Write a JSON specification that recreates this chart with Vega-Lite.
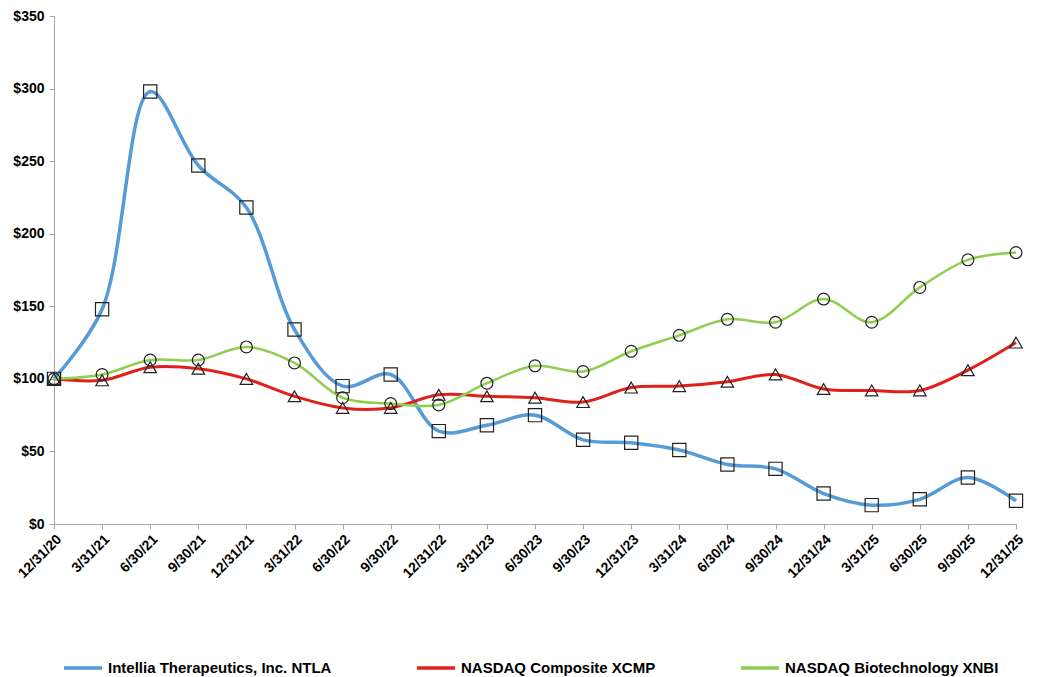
{
  "$schema": "https://vega.github.io/schema/vega-lite/v6.json",
  "width": 962,
  "height": 508,
  "autosize": {"type": "none"},
  "padding": {"left": 54, "top": 16, "right": 37, "bottom": 153},
  "background": "white",
  "config": {"view": {"stroke": null}, "font": "Liberation Sans"},
  "data": {"values": [
    {"date": "12/31/20", "series": "Intellia Therapeutics, Inc. NTLA", "value": 100},
    {"date": "3/31/21", "series": "Intellia Therapeutics, Inc. NTLA", "value": 148},
    {"date": "6/30/21", "series": "Intellia Therapeutics, Inc. NTLA", "value": 298},
    {"date": "9/30/21", "series": "Intellia Therapeutics, Inc. NTLA", "value": 247},
    {"date": "12/31/21", "series": "Intellia Therapeutics, Inc. NTLA", "value": 218},
    {"date": "3/31/22", "series": "Intellia Therapeutics, Inc. NTLA", "value": 134},
    {"date": "6/30/22", "series": "Intellia Therapeutics, Inc. NTLA", "value": 95},
    {"date": "9/30/22", "series": "Intellia Therapeutics, Inc. NTLA", "value": 103},
    {"date": "12/31/22", "series": "Intellia Therapeutics, Inc. NTLA", "value": 64},
    {"date": "3/31/23", "series": "Intellia Therapeutics, Inc. NTLA", "value": 68},
    {"date": "6/30/23", "series": "Intellia Therapeutics, Inc. NTLA", "value": 75},
    {"date": "9/30/23", "series": "Intellia Therapeutics, Inc. NTLA", "value": 58},
    {"date": "12/31/23", "series": "Intellia Therapeutics, Inc. NTLA", "value": 56},
    {"date": "3/31/24", "series": "Intellia Therapeutics, Inc. NTLA", "value": 51},
    {"date": "6/30/24", "series": "Intellia Therapeutics, Inc. NTLA", "value": 41},
    {"date": "9/30/24", "series": "Intellia Therapeutics, Inc. NTLA", "value": 38},
    {"date": "12/31/24", "series": "Intellia Therapeutics, Inc. NTLA", "value": 21},
    {"date": "3/31/25", "series": "Intellia Therapeutics, Inc. NTLA", "value": 13},
    {"date": "6/30/25", "series": "Intellia Therapeutics, Inc. NTLA", "value": 17},
    {"date": "9/30/25", "series": "Intellia Therapeutics, Inc. NTLA", "value": 32},
    {"date": "12/31/25", "series": "Intellia Therapeutics, Inc. NTLA", "value": 16},
    {"date": "12/31/20", "series": "NASDAQ Composite XCMP", "value": 100},
    {"date": "3/31/21", "series": "NASDAQ Composite XCMP", "value": 99},
    {"date": "6/30/21", "series": "NASDAQ Composite XCMP", "value": 108},
    {"date": "9/30/21", "series": "NASDAQ Composite XCMP", "value": 107},
    {"date": "12/31/21", "series": "NASDAQ Composite XCMP", "value": 100},
    {"date": "3/31/22", "series": "NASDAQ Composite XCMP", "value": 88},
    {"date": "6/30/22", "series": "NASDAQ Composite XCMP", "value": 80},
    {"date": "9/30/22", "series": "NASDAQ Composite XCMP", "value": 80},
    {"date": "12/31/22", "series": "NASDAQ Composite XCMP", "value": 89},
    {"date": "3/31/23", "series": "NASDAQ Composite XCMP", "value": 88},
    {"date": "6/30/23", "series": "NASDAQ Composite XCMP", "value": 87},
    {"date": "9/30/23", "series": "NASDAQ Composite XCMP", "value": 84},
    {"date": "12/31/23", "series": "NASDAQ Composite XCMP", "value": 94},
    {"date": "3/31/24", "series": "NASDAQ Composite XCMP", "value": 95},
    {"date": "6/30/24", "series": "NASDAQ Composite XCMP", "value": 98},
    {"date": "9/30/24", "series": "NASDAQ Composite XCMP", "value": 103},
    {"date": "12/31/24", "series": "NASDAQ Composite XCMP", "value": 93},
    {"date": "3/31/25", "series": "NASDAQ Composite XCMP", "value": 92},
    {"date": "6/30/25", "series": "NASDAQ Composite XCMP", "value": 92},
    {"date": "9/30/25", "series": "NASDAQ Composite XCMP", "value": 106},
    {"date": "12/31/25", "series": "NASDAQ Composite XCMP", "value": 125},
    {"date": "12/31/20", "series": "NASDAQ Biotechnology XNBI", "value": 100},
    {"date": "3/31/21", "series": "NASDAQ Biotechnology XNBI", "value": 103},
    {"date": "6/30/21", "series": "NASDAQ Biotechnology XNBI", "value": 113},
    {"date": "9/30/21", "series": "NASDAQ Biotechnology XNBI", "value": 113},
    {"date": "12/31/21", "series": "NASDAQ Biotechnology XNBI", "value": 122},
    {"date": "3/31/22", "series": "NASDAQ Biotechnology XNBI", "value": 111},
    {"date": "6/30/22", "series": "NASDAQ Biotechnology XNBI", "value": 87},
    {"date": "9/30/22", "series": "NASDAQ Biotechnology XNBI", "value": 83},
    {"date": "12/31/22", "series": "NASDAQ Biotechnology XNBI", "value": 82},
    {"date": "3/31/23", "series": "NASDAQ Biotechnology XNBI", "value": 97},
    {"date": "6/30/23", "series": "NASDAQ Biotechnology XNBI", "value": 109},
    {"date": "9/30/23", "series": "NASDAQ Biotechnology XNBI", "value": 105},
    {"date": "12/31/23", "series": "NASDAQ Biotechnology XNBI", "value": 119},
    {"date": "3/31/24", "series": "NASDAQ Biotechnology XNBI", "value": 130},
    {"date": "6/30/24", "series": "NASDAQ Biotechnology XNBI", "value": 141},
    {"date": "9/30/24", "series": "NASDAQ Biotechnology XNBI", "value": 139},
    {"date": "12/31/24", "series": "NASDAQ Biotechnology XNBI", "value": 155},
    {"date": "3/31/25", "series": "NASDAQ Biotechnology XNBI", "value": 139},
    {"date": "6/30/25", "series": "NASDAQ Biotechnology XNBI", "value": 163},
    {"date": "9/30/25", "series": "NASDAQ Biotechnology XNBI", "value": 182},
    {"date": "12/31/25", "series": "NASDAQ Biotechnology XNBI", "value": 187}
  ]},
  "encoding": {
    "x": {
      "field": "date", "type": "ordinal", "sort": null,
      "scale": {"type": "point", "padding": 0},
      "axis": {"title": null, "labelAngle": -45, "labelFontWeight": "bold", "labelFontSize": 14, "labelColor": "black",
               "domainColor": "#a6a6a6", "tickColor": "#a6a6a6", "tickSize": 5, "grid": false, "labelPadding": 3}
    },
    "y": {
      "field": "value", "type": "quantitative",
      "scale": {"domain": [0, 350], "nice": false},
      "axis": {"title": null, "values": [0, 50, 100, 150, 200, 250, 300, 350], "labelExpr": "'$' + datum.value",
               "labelFontWeight": "bold", "labelFontSize": 14, "labelColor": "black", "grid": false,
               "domainColor": "#a6a6a6", "tickColor": "#a6a6a6", "tickSize": 5, "labelPadding": 5}
    }
  },
  "layer": [
    {
      "mark": {"type": "line", "interpolate": "catmull-rom"},
      "encoding": {
        "color": {
          "field": "series", "type": "nominal",
          "sort": ["Intellia Therapeutics, Inc. NTLA", "NASDAQ Composite XCMP", "NASDAQ Biotechnology XNBI"],
          "scale": {"range": ["#559bd8", "#e0201b", "#8fce4f"]},
          "legend": {"title": null, "orient": "none", "legendX": 8, "legendY": 631, "direction": "horizontal",
                     "symbolType": "stroke", "symbolSize": 1444, "symbolStrokeWidth": 3.5,
                     "labelFontSize": 15, "labelFontWeight": "bold", "labelColor": "black", "columnPadding": 78,
                     "labelOffset": 4, "labelLimit": 0}
        },
        "strokeWidth": {
          "field": "series", "type": "nominal",
          "scale": {"domain": ["Intellia Therapeutics, Inc. NTLA", "NASDAQ Composite XCMP", "NASDAQ Biotechnology XNBI"], "range": [3.5, 2.5, 2.5]},
          "legend": null
        }
      }
    },
    {
      "mark": {"type": "point", "filled": false, "stroke": "#222222", "strokeWidth": 1.2, "opacity": 1},
      "encoding": {
        "shape": {
          "field": "series", "type": "nominal",
          "scale": {"domain": ["Intellia Therapeutics, Inc. NTLA", "NASDAQ Composite XCMP", "NASDAQ Biotechnology XNBI"], "range": ["square", "triangle-up", "circle"]},
          "legend": {"title": null, "orient": "bottom", "offset": 43, "padding": 22, "direction": "horizontal",
                     "symbolSize": 100, "symbolFillColor": "white", "symbolStrokeColor": "#222222", "symbolStrokeWidth": 1.2,
                     "labelFontSize": 15, "labelFontWeight": "bold", "labelOpacity": 0, "columnPadding": 78,
                     "labelOffset": 18, "labelLimit": 0}
        },
        "size": {
          "field": "series", "type": "nominal",
          "scale": {"domain": ["Intellia Therapeutics, Inc. NTLA", "NASDAQ Composite XCMP", "NASDAQ Biotechnology XNBI"], "range": [175, 140, 175]},
          "legend": null
        }
      }
    }
  ]
}
